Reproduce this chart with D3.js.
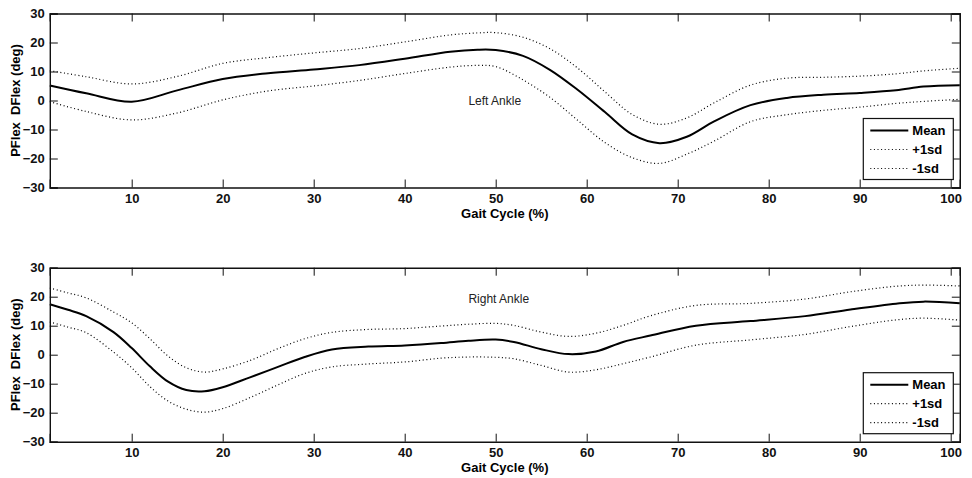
<!DOCTYPE html>
<html>
<head>
<meta charset="utf-8">
<script src="https://cdn.jsdelivr.net/npm/d3@7"></script>
<style>
body { margin: 0; background: #fff; }
text { font-family: Arial, "Liberation Sans", sans-serif; }
</style>
</head>
<body>
<script>
// left ankle (gait %, deg)
var leftGait = [1, 5, 10, 15, 20, 25, 30, 35, 40, 45, 48, 50, 53, 56, 59, 62, 65, 68, 71, 74, 78, 82, 86, 90, 94, 97, 101];
var leftMean = [5.2, 2.5, -0.4, 3.5, 7.4, 9.4, 10.7, 12.2, 14.4, 16.8, 17.5, 17.4, 15.4, 10.5, 3.7, -4, -11.7, -14.7, -12.5, -7.2, -1.6, 0.9, 2, 2.6, 3.5, 4.8, 5.3];
var leftPlus = [10.3, 8.2, 5.7, 8.3, 12.8, 14.8, 16.4, 17.9, 20.2, 22.6, 23.3, 23.4, 21.8, 17.8, 11.2, 3, -4.8, -8.2, -6, -0.8, 5.3, 7.7, 8, 8.4, 9.2, 10.2, 11.1];
var leftMinus = [-0.4, -3.8, -6.7, -4.3, 0.2, 3.3, 5, 6.9, 9.3, 11.5, 12.1, 11.7, 7.1, 1, -6.8, -14.5, -19.7, -21.7, -18.5, -14, -7.3, -4.9, -3.4, -2.3, -1, -0.3, 0.4];

// right ankle
var rightGait = [1, 3, 5, 8, 10, 12, 14, 16, 18, 20, 23, 26, 29, 32, 36, 40, 44, 47, 50, 52, 55, 58, 61, 64, 67, 72, 78, 84, 89, 94, 97, 101];
var rightMean = [17.4, 15.5, 13.3, 7.8, 2.3, -4, -9.3, -12.2, -12.6, -11.2, -7.8, -4.3, -0.8, 1.8, 2.8, 3.2, 4, 4.8, 5.2, 4.4, 1.9, 0.2, 1.1, 4.4, 6.6, 10, 11.6, 13.3, 15.6, 17.6, 18.3, 17.7];
var rightPlus = [23, 21.3, 19.6, 14.7, 11, 5.5, -0.5, -4.5, -6, -4.9, -2, 2, 5.5, 7.7, 8.7, 9, 9.9, 10.5, 10.8, 10.1, 7.8, 6.3, 7.4, 10.1, 13.4, 17, 17.7, 19.2, 21.7, 23.6, 24, 23.7];
var rightMinus = [11.3, 9.5, 7.6, 0.9, -4.5, -11, -16, -18.8, -19.8, -18.6, -14.8, -10.5, -6.5, -4.2, -3.2, -2.5, -1.2, -0.8, -0.9, -1.4, -3.7, -6, -5.2, -3.1, -0.8, 3.3, 5.1, 7, 9.7, 12, 12.6, 11.9];

var xTicks = [10, 20, 30, 40, 50, 60, 70, 80, 90, 100];
var yTicks = [-30, -20, -10, 0, 10, 20, 30];
var legendLabels = ["Mean", "+1sd", "-1sd"];
var panelTitles = ["Left Ankle", "Right Ankle"];
var titlePos = [[47, 0], [47, 19.3]];

var W = 972, H = 478;
var svg = d3.select("body").append("svg").attr("width", W).attr("height", H);

var x = d3.scaleLinear().domain([1, 101]).range([49.8, 959.8]);

function drawPanel(top, gait, mean, plus, minus, title, tpos) {
    var bottom = top + 174;
    var y = d3.scaleLinear().domain([-30, 30]).range([bottom, top]);
    var g = svg.append("g");

    var line = d3.line()
        .x(function (d) { return x(d[0]); })
        .y(function (d) { return y(d[1]); })
        .curve(d3.curveCatmullRom.alpha(0.5));

    var series = [
        { v: mean, w: 2, dash: null },
        { v: plus, w: 1.2, dash: "1,2.6" },
        { v: minus, w: 1.2, dash: "1,2.6" }
    ];
    series.forEach(function (s) {
        g.append("path")
            .datum(gait.map(function (d, i) { return [d, s.v[i]]; }))
            .attr("fill", "none")
            .attr("stroke", "#000")
            .attr("stroke-width", s.w)
            .attr("stroke-dasharray", s.dash)
            .attr("d", line);
    });

    // axes, ticks inward on all sides
    var tl = 8;
    g.append("g").attr("transform", "translate(0," + bottom + ")")
        .call(d3.axisBottom(x).tickValues(xTicks).tickSize(-tl).tickPadding(6.5).tickFormat(d3.format("d")));
    g.append("g").attr("transform", "translate(0," + top + ")")
        .call(d3.axisTop(x).tickValues(xTicks).tickSize(-tl).tickFormat(""));
    g.append("g").attr("transform", "translate(" + x(1) + ",0)")
        .call(d3.axisLeft(y).tickValues(yTicks).tickSize(-tl).tickPadding(5));
    g.append("g").attr("transform", "translate(" + x(101) + ",0)")
        .call(d3.axisRight(y).tickValues(yTicks).tickSize(-tl).tickFormat(""));

    g.selectAll(".domain").attr("stroke", "#111").attr("stroke-width", 1.4);
    g.selectAll(".tick line").attr("stroke", "#111").attr("stroke-width", 1);
    g.selectAll(".tick text")
        .attr("font-size", 13).attr("font-weight", "bold").attr("fill", "#111")
        .attr("font-family", "Arial, 'Liberation Sans', sans-serif");

    // axis labels
    g.append("text")
        .attr("x", (x(1) + x(101)) / 2).attr("y", bottom + 30)
        .attr("text-anchor", "middle").attr("font-size", 13).attr("font-weight", "bold")
        .text("Gait Cycle (%)");
    g.append("text")
        .attr("transform", "translate(19.5," + (top + 87) + ") rotate(-90)")
        .attr("text-anchor", "middle").attr("font-size", 13).attr("font-weight", "bold")
        .style("white-space", "pre")
        .text("PFlex  DFlex (deg)");

    // panel title
    g.append("text")
        .attr("x", x(tpos[0])).attr("y", y(tpos[1]))
        .attr("dy", "0.35em").attr("font-size", 12).attr("fill", "#222")
        .text(title);

    // legend
    var lw = 90, lh = 61;
    var lx = x(101) - 6.5 - lw, ly = bottom - 8 - lh;
    var leg = g.append("g").attr("transform", "translate(" + lx + "," + ly + ")");
    leg.append("rect").attr("width", lw).attr("height", lh)
        .attr("fill", "#fff").attr("stroke", "#111").attr("stroke-width", 1.2);
    legendLabels.forEach(function (lab, i) {
        var yy = 12 + i * 19;
        leg.append("line").attr("x1", 7).attr("x2", 45).attr("y1", yy).attr("y2", yy)
            .attr("stroke", "#000").attr("stroke-width", series[i].w)
            .attr("stroke-dasharray", series[i].dash);
        leg.append("text").attr("x", 49).attr("y", yy).attr("dy", "0.35em")
            .attr("font-size", 13).attr("font-weight", "bold").text(lab);
    });
}

drawPanel(13.5, leftGait, leftMean, leftPlus, leftMinus, panelTitles[0], titlePos[0]);
drawPanel(267.7, rightGait, rightMean, rightPlus, rightMinus, panelTitles[1], titlePos[1]);
</script>
</body>
</html>
